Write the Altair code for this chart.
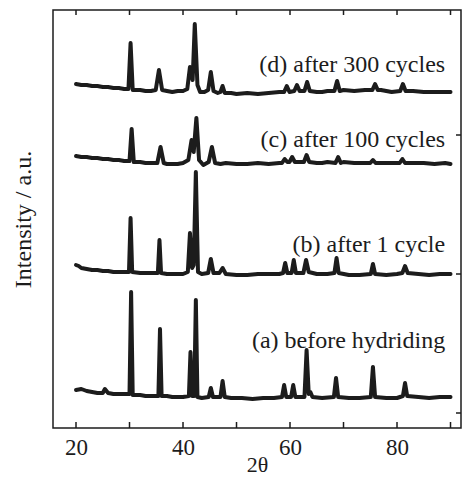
import altair as alt
import pandas as pd

# ---- data (2θ in degrees, intensity in stacked a.u.) ----
two_theta_a = [20, 21, 22, 23, 24, 25, 25.4, 26, 27, 28, 29, 30.0, 30.3, 30.6, 32, 33, 34,
               35.4, 35.7, 36.0, 37, 38, 39, 40, 41.1, 41.4, 41.7, 42.1, 42.4, 42.7, 43.5,
               44.8, 45.2, 45.6, 47.0, 47.4, 47.8, 49, 51, 53, 55, 57, 58.5, 58.9, 59.3,
               60.2, 60.6, 61.0, 62.7, 63.1, 63.5, 63.8, 64.2, 66, 68.2, 68.6, 69.0, 71, 73,
               75.1, 75.5, 75.9, 78, 80, 81.1, 81.5, 81.9, 84, 86, 88, 90]
intensity_a = [38, 39, 37, 36, 35, 35, 39, 35, 34, 34, 34, 34, 136, 33, 33, 32, 32,
               32, 99, 32, 32, 31, 31, 31, 32, 76, 32, 32, 128, 31, 30,
               31, 40, 31, 31, 47, 31, 30, 30, 29, 30, 30, 31, 43, 31,
               31, 43, 31, 31, 78, 34, 36, 31, 30, 31, 50, 31, 30, 30,
               31, 61, 31, 30, 30, 32, 45, 32, 31, 30, 31, 31]

two_theta_b = [20, 20.5, 21, 22, 23, 24, 25, 26, 27, 28, 29, 29.9, 30.2, 30.5, 32, 33, 34,
               35.3, 35.6, 35.9, 37, 38, 39, 40, 40.9, 41.3, 41.7, 42.0, 42.4, 42.8, 43.5,
               44.7, 45.2, 45.7, 46.8, 47.4, 48, 50, 52, 54, 56, 58, 58.7, 59.1, 59.5,
               60.3, 60.7, 61.1, 62.5, 63.0, 63.5, 65, 67, 68.3, 68.7, 69.1, 71, 73,
               75.1, 75.5, 75.9, 78, 80, 81.0, 81.5, 82, 84, 86, 88, 90]
intensity_b = [163, 162, 160, 159, 158, 158, 157, 157, 156, 156, 156, 156, 210, 156, 155, 155, 155,
               155, 188, 155, 154, 154, 154, 154, 156, 195, 160, 163, 256, 156, 154,
               155, 169, 155, 155, 160, 154, 153, 153, 154, 154, 154, 155, 165, 155,
               155, 168, 155, 155, 168, 156, 154, 154, 155, 170, 155, 153, 153,
               154, 164, 154, 153, 154, 155, 162, 155, 154, 153, 154, 154]

two_theta_c = [20, 21, 22, 23, 24, 25, 26, 27, 28, 29, 30.0, 30.4, 30.8, 32, 33, 34,
               35.2, 35.8, 36.4, 37, 38, 39, 40, 41.0, 41.6, 42.0, 42.5, 43.0, 43.8,
               44.8, 45.4, 46, 47, 48, 50, 52, 54, 56, 58, 58.5, 59.0, 59.5, 59.9, 60.4,
               60.9, 62.6, 63.1, 63.6, 65, 66, 67, 68.5, 69.0, 69.5, 70, 72, 74, 75.0, 75.5,
               76.0, 77, 79, 80.5, 81.0, 81.5, 83, 85, 87, 89, 90]
intensity_c = [272, 271, 271, 270, 270, 269, 269, 268, 268, 267, 267, 299, 266, 266, 265, 265,
               265, 281, 265, 264, 264, 264, 265, 268, 288, 276, 310, 268, 263,
               266, 281, 265, 264, 265, 264, 264, 265, 264, 265, 265, 269, 266, 266, 271,
               266, 266, 273, 266, 265, 265, 266, 265, 271, 265, 266, 265, 265, 265, 268,
               265, 265, 265, 265, 269, 265, 265, 265, 264, 265, 264]

two_theta_d = [20, 21, 22, 23, 24, 25, 26, 27, 28, 29, 29.8, 30.2, 30.6, 31, 32, 33, 34,
               34.9, 35.5, 36.1, 37, 38, 39, 40, 40.8, 41.3, 41.8, 42.2, 42.7, 43.2, 44,
               44.7, 45.2, 45.7, 46.5, 47.0, 47.4, 47.8, 49, 50, 52, 54, 56, 58, 58.9, 59.4,
               59.9, 60.8, 61.3, 61.8, 62.7, 63.2, 63.7, 65, 66, 67, 68.3, 68.8, 69.3, 70, 72,
               74, 75.4, 75.9, 76.4, 77, 79, 80.6, 81.1, 81.6, 83, 85, 87, 89, 90]
intensity_d = [344, 343, 343, 342, 342, 341, 341, 340, 340, 339, 339, 385, 338, 338, 338, 337, 337,
               338, 358, 338, 337, 336, 337, 337, 339, 361, 348, 404, 343, 336, 336,
               338, 356, 337, 335, 336, 342, 335, 335, 334, 335, 334, 335, 336, 336, 342,
               336, 337, 343, 337, 337, 346, 337, 336, 336, 337, 337, 347, 337, 338, 337,
               338, 338, 344, 338, 338, 336, 337, 344, 337, 337, 336, 336, 336, 336]

trace_names = ["a", "b", "c", "d"]
trace_labels = ["(a) before hydriding", "(b) after 1 cycle",
                "(c) after 100 cycles", "(d) after 300 cycles"]
label_intensity = [80, 176, 281, 356]
label_two_theta = [89, 89, 89, 89]

x_tick_values = [20, 30, 40, 50, 60, 70, 80, 90]
x_label_values = [20, 40, 60, 80]
right_tick_values = [15, 154, 293]

# ---- build tables ----
rows = []
for name, xs, ys in zip(trace_names,
                        [two_theta_a, two_theta_b, two_theta_c, two_theta_d],
                        [intensity_a, intensity_b, intensity_c, intensity_d]):
    for i, (xv, yv) in enumerate(zip(xs, ys)):
        rows.append({"x": xv, "y": yv, "trace": name, "i": i})
df = pd.DataFrame(rows)
df_labels = pd.DataFrame({"x": label_two_theta, "y": label_intensity, "label": trace_labels})
df_xt = pd.DataFrame({"x": x_tick_values})
df_yt = pd.DataFrame({"y": right_tick_values})

W, H = 408, 418
FONT = "Liberation Serif"
INK = "#1c1c1c"

x_scale = alt.Scale(domain=[15.7, 91.96], nice=False, zero=False)
y_scale = alt.Scale(domain=[0, 418], nice=False, zero=False)
x_axis = alt.Axis(values=x_label_values, ticks=False, domain=False, grid=False,
                  labelFont=FONT, labelFontSize=23, labelColor=INK, labelPadding=8,
                  title="2θ", titleFont=FONT, titleFontSize=22, titleFontWeight="normal",
                  titleColor=INK, titlePadding=-5)
y_axis = alt.Axis(labels=False, ticks=False, domain=False, grid=False,
                  title="Intensity / a.u.", titleFont=FONT, titleFontSize=24,
                  titleFontWeight="normal", titleColor=INK, titlePadding=18)

X = alt.X("x:Q", scale=x_scale, axis=x_axis)
Y = alt.Y("y:Q", scale=y_scale, axis=y_axis)

lines = alt.Chart(df).mark_line(color=INK, strokeWidth=4, strokeJoin="round",
                                strokeCap="round").encode(
    x=X, y=Y, detail="trace:N", order="i:Q")

texts = alt.Chart(df_labels).mark_text(align="right", baseline="alphabetic", font=FONT,
                                       fontSize=24, color=INK).encode(
    x=X, y=Y, text="label:N")

top_ticks = alt.Chart(df_xt).mark_rule(color=INK, strokeWidth=1.5).encode(
    x=X, y=alt.value(0), y2=alt.value(5))
bottom_ticks = alt.Chart(df_xt).mark_rule(color=INK, strokeWidth=1.5).encode(
    x=X, y=alt.value(H), y2=alt.value(H - 6))
right_ticks = alt.Chart(df_yt).mark_rule(color=INK, strokeWidth=1.5).encode(
    y=Y, x=alt.value(W - 5), x2=alt.value(W))

chart = alt.layer(lines, texts, top_ticks, bottom_ticks, right_ticks).properties(
    width=W, height=H,
    autosize=alt.AutoSizeParams(type="none"),
    padding={"left": 45, "top": 2, "right": 1, "bottom": 47},
).configure_view(stroke=INK, strokeWidth=1.5)

chart.save("out.html", embed_options={"renderer": "svg", "actions": False})
